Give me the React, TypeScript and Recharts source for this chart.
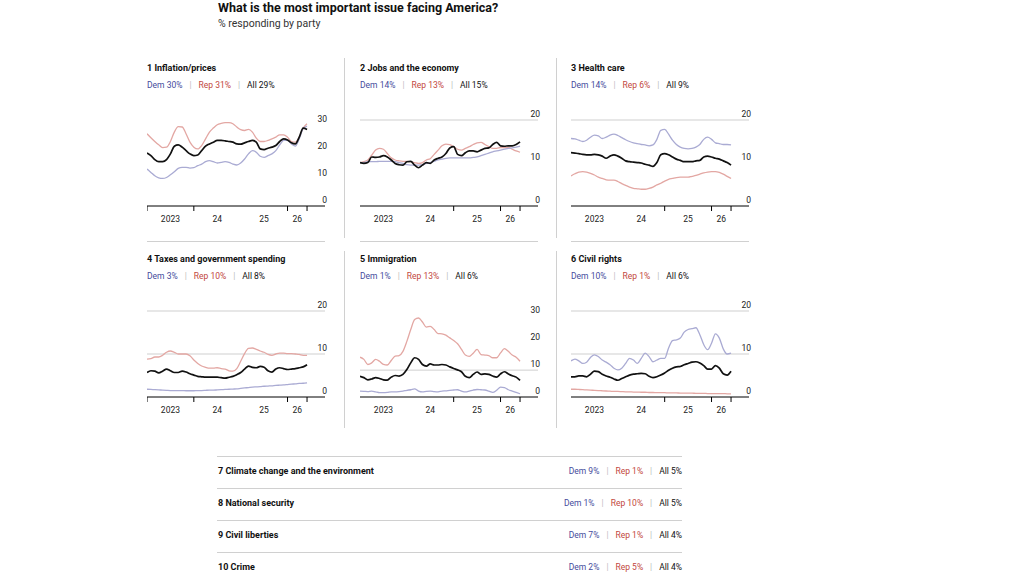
import React from 'react';
import { LineChart, Line, XAxis, YAxis, ReferenceLine } from 'recharts';

const FONT = 'Roboto, "Liberation Sans", sans-serif';
const DEM_LINE = '#aaabd3';
const REP_LINE = '#e3a7a3';
const DEM_TEXT = '#454b9c';
const REP_TEXT = '#c2463d';

// month index, 0 = Jan 2023
const months = [0, 1, 2, 3, 4, 5, 6, 7, 8, 9, 10, 11, 12, 13, 14, 15, 16, 17, 18, 19, 20, 21, 22, 23, 24, 25, 26, 27, 28, 29, 30, 31, 32, 33, 34, 35, 36, 37, 38, 39, 40, 41];

const inflationDem = [13.75, 12.5, 11.25, 10.5, 10.25, 10.6, 11.6, 12.75, 14, 14.4, 14.4, 14.1, 14.25, 15, 15.6, 16.5, 16.9, 16.5, 16, 16.25, 16.5, 16.25, 15.6, 15.25, 16, 17.5, 19.4, 20.6, 20, 18.5, 18.1, 18.75, 19.4, 20.6, 22.75, 24.4, 24.4, 23.1, 22.25, 25, 28.75, 29.75];
const inflationRep = [26.9, 25.4, 24, 22.75, 21.75, 21.9, 24, 27.5, 29.5, 29.4, 26.9, 23.75, 21.9, 21.25, 22.5, 25, 27.5, 29, 30.25, 30.75, 31, 31, 30.6, 29.4, 28.4, 28.1, 28.5, 27.5, 25.25, 24, 24, 24.4, 25, 25.6, 26.5, 26.5, 25.6, 24, 23.75, 25.6, 29, 30.6];
const inflationAll = [19.75, 18.75, 17.25, 16.5, 16.5, 17.25, 19.4, 22.25, 22.75, 21.9, 20.6, 19.4, 18.75, 19, 20.6, 22.25, 23.1, 23.75, 24.4, 24.4, 24.25, 24, 23.75, 23.1, 23, 23.5, 24, 24.4, 23.75, 21.25, 21, 21.5, 21.9, 22.5, 24, 25, 24.6, 23.5, 23.1, 25.6, 29, 28.5];

const jobsDem = [10.1, 10.1, 10.3, 10.3, 10.3, 10.4, 10.4, 10.4, 10.4, 10.3, 10.1, 9.9, 9.6, 9.5, 9.5, 9.5, 9.6, 9.9, 10.1, 10.4, 10.7, 10.9, 11.1, 11.2, 11.2, 11.2, 11.2, 11.2, 11.2, 11.3, 11.4, 11.7, 12, 12.3, 12.6, 12.8, 13, 13.2, 13.4, 13.5, 13.7, 13.9];
const jobsRep = [10.1, 10.3, 10.7, 11.8, 13, 13.4, 13.2, 12.2, 11.2, 10.7, 10.5, 10.4, 10.4, 10.3, 10.1, 9.9, 10.1, 10.7, 11, 12, 13, 14, 14.4, 14.3, 13.8, 13.2, 13, 13.4, 13.8, 14.3, 14.7, 14.8, 14.3, 13.8, 13.4, 13.4, 13.6, 13.6, 13.6, 13.2, 12.8, 12.5];
const jobsAll = [10.1, 9.9, 10.1, 11.4, 11.3, 11.4, 11.7, 11.4, 10.7, 9.9, 9.6, 9.5, 10.3, 10.4, 9.5, 8.9, 9.5, 10.1, 9.9, 10.7, 11.1, 11.4, 12.2, 13.5, 13.8, 12, 11.7, 12.4, 12.8, 12.8, 12.6, 13, 13.4, 13.5, 14.3, 14.8, 14, 13.9, 14, 14, 14.3, 14.9];

const healthDem = [15.7, 15.6, 15.3, 15, 15.3, 16, 16.5, 16.3, 15.7, 16, 16.5, 16.7, 16.4, 15.9, 15.4, 15, 14.7, 14.5, 14.3, 14.2, 14, 14.2, 15.5, 17.6, 17.8, 16.7, 15.3, 14.3, 13.7, 13.4, 13.3, 13.4, 13.7, 14.3, 15.5, 16, 15.5, 14.7, 14.5, 14.3, 14.3, 14.2];
const healthRep = [7, 7.5, 7.9, 8, 7.9, 7.6, 7.2, 6.7, 6.4, 6.1, 6, 6, 5.7, 5.2, 4.8, 4.4, 4.1, 4, 3.9, 3.9, 4.1, 4.4, 4.9, 5.3, 5.8, 6.2, 6.4, 6.6, 6.7, 6.7, 6.7, 6.9, 7.1, 7.4, 7.7, 7.9, 8, 8, 7.8, 7.4, 6.9, 6.4];
const healthAll = [12.4, 12.3, 12.2, 12, 11.9, 11.9, 12, 11.9, 11.6, 11.1, 11.6, 11.9, 11.6, 11.1, 10.5, 10.3, 10.2, 10.1, 10, 9.7, 9.5, 9.2, 10.1, 11.9, 12.2, 11.9, 11.4, 10.9, 10.6, 10.3, 10.3, 10.3, 10.5, 10.6, 11.4, 11.6, 11.4, 11.1, 10.9, 10.5, 10.1, 9.5];

const taxesDem = [1.8, 1.75, 1.7, 1.65, 1.6, 1.55, 1.5, 1.5, 1.5, 1.5, 1.45, 1.45, 1.45, 1.5, 1.5, 1.55, 1.6, 1.6, 1.65, 1.7, 1.75, 1.8, 1.85, 1.9, 2, 2.1, 2.2, 2.3, 2.35, 2.4, 2.5, 2.55, 2.6, 2.7, 2.75, 2.8, 2.9, 3, 3.05, 3.15, 3.2, 3.3];
const taxesRep = [8.8, 8.9, 9.3, 9.3, 9.7, 10.4, 10.7, 10.4, 10, 10, 10, 9.6, 8.6, 7.8, 7.2, 6.9, 6.7, 6.7, 6.8, 6.6, 6.5, 6.1, 6, 6.6, 8.3, 10.1, 11.3, 11.4, 11.1, 10.7, 10.4, 9.9, 9.7, 10, 10.2, 10.2, 10.1, 10.1, 10, 9.9, 9.7, 9.7];
const taxesAll = [5.7, 6.1, 6, 5.6, 6, 6.5, 6.1, 5.7, 5.7, 6, 5.8, 5.4, 5.1, 4.8, 4.7, 4.6, 4.6, 4.6, 4.6, 4.5, 4.4, 4.6, 4.8, 5.2, 5.7, 6.5, 7.2, 6.9, 6.8, 7.1, 6.9, 6.1, 5.8, 6.5, 6.8, 6.6, 6.4, 6.5, 6.6, 6.8, 7, 7.5];

const immigrationDem = [2.2, 2.1, 2, 2.2, 1.9, 1.6, 1.6, 1.7, 1.9, 1.9, 2, 2.2, 2.5, 2.7, 3, 2.2, 1.9, 2.1, 2.2, 2, 1.9, 2.2, 2.3, 2.5, 2.6, 2.7, 2.2, 1.9, 2.2, 2.6, 2.8, 2.7, 2.6, 2.2, 1.7, 2.5, 3.7, 3.5, 2.7, 2.2, 1.7, 1.2];
const immigrationRep = [14.8, 14, 12.1, 12.7, 14, 13.3, 12.1, 11.9, 13.6, 15.2, 15.4, 17, 20.7, 25.1, 28.8, 29.4, 27.9, 26, 26.3, 25.1, 23.6, 23.5, 23, 22, 21, 19.8, 17.7, 15.6, 15.1, 16.3, 17.7, 15.8, 15.6, 15.4, 14.6, 14.6, 16.4, 18, 17, 15.6, 14.8, 13.3];
const immigrationAll = [7.7, 7.2, 6.4, 6.7, 7.2, 6.9, 6.4, 6.3, 7.4, 8, 7.8, 8.4, 10.2, 12.7, 14.6, 14, 12.1, 11.5, 12.3, 11.9, 11.9, 12.1, 11.9, 11.2, 10.6, 10.1, 9.4, 7.7, 7.2, 8.4, 9.3, 8.4, 8.6, 8.4, 7.8, 7.4, 8.6, 9.4, 8.6, 7.9, 7.4, 6.2];

const civilDem = [8.4, 8.8, 8.4, 7.8, 8.1, 9.2, 9.8, 9.4, 8.6, 8.1, 7.5, 6.7, 6.3, 6.7, 7.8, 9, 8.6, 7.8, 9, 10.2, 9.4, 8.2, 8.6, 9, 9, 11.4, 13.1, 13.3, 13.7, 15.1, 15.7, 15.9, 16.1, 14.5, 12.2, 11, 12.5, 14.7, 13.7, 11.2, 10, 10.2];
const civilRep = [1.8, 1.8, 1.75, 1.7, 1.65, 1.6, 1.55, 1.5, 1.45, 1.4, 1.35, 1.3, 1.3, 1.25, 1.2, 1.2, 1.15, 1.15, 1.1, 1.1, 1.05, 1.05, 1, 1, 1, 0.95, 0.95, 0.95, 0.9, 0.9, 0.9, 0.9, 0.85, 0.85, 0.85, 0.8, 0.8, 0.8, 0.8, 0.8, 0.75, 0.75];
const civilAll = [4.7, 4.7, 4.9, 4.9, 4.7, 5.3, 6, 5.9, 5.3, 4.9, 4.6, 4.2, 3.9, 4.3, 4.7, 5.1, 5.3, 5.4, 5.5, 5.4, 4.8, 4.5, 4.7, 5.1, 5.6, 6.2, 6.7, 7, 7.1, 7.5, 7.8, 8.1, 8.2, 7.9, 7.3, 6.5, 6.5, 7.3, 6.7, 5.4, 5.1, 6];

const panelTitles = ['1 Inflation/prices', '2 Jobs and the economy', '3 Health care', '4 Taxes and government spending', '5 Immigration', '6 Civil rights'];
const panelDemShare = [30, 14, 14, 3, 1, 10];
const panelRepShare = [31, 13, 6, 10, 13, 1];
const panelAllShare = [29, 15, 9, 8, 6, 6];
const panelSeries = [
  [inflationDem, inflationRep, inflationAll],
  [jobsDem, jobsRep, jobsAll],
  [healthDem, healthRep, healthAll],
  [taxesDem, taxesRep, taxesAll],
  [immigrationDem, immigrationRep, immigrationAll],
  [civilDem, civilRep, civilAll],
];
const panelYTicks = [[0, 10, 20, 30], [0, 10, 20], [0, 10, 20], [0, 10, 20], [0, 10, 20, 30], [0, 10, 20]];
const panelGrid = [[], [20], [20], [20, 10], [10], [20, 10]];

const yearLabels: Record<number, string> = { 6: '2023', 18: '24', 30: '25', 38.5: '26' };

const tableIssues = ['7 Climate change and the environment', '8 National security', '9 Civil liberties', '10 Crime'];
const tableDem = [9, 1, 7, 2];
const tableRep = [1, 10, 1, 5];
const tableAll = [5, 5, 4, 4];

const PLOT_W = 178;
const PLOT_H = 86;
const MT = 10;
const MR = 12;
const AXIS_H = 22;
const colX = [147, 360, 571];
const rowZero = [205.5, 397.3];
const rowTitleY = [63, 254];
const colTicks = [[0, 12, 36, 41], [24, 36, 41], [24, 36, 41]];

const Sep = () => <span style={{ color: '#bbb', margin: '0 7px' }}>|</span>;

const Shares = ({ dem, rep, all }: { dem: number; rep: number; all: number }) => (
  <>
    <span style={{ color: DEM_TEXT }}>Dem {dem}%</span>
    <Sep />
    <span style={{ color: REP_TEXT }}>Rep {rep}%</span>
    <Sep />
    <span style={{ color: '#111' }}>All {all}%</span>
  </>
);

const XTick = (props: any) => {
  const { x, y, payload, lines } = props;
  const v = payload.value;
  const label = yearLabels[v];
  return (
    <g>
      {lines.includes(v) && <line x1={x} x2={x} y1={y} y2={y + 5} stroke="#000" strokeWidth={1} />}
      {label && (
        <text x={x} y={y + 16} textAnchor="middle" fontSize={8.5} fontFamily={FONT} fill="#222">
          {label}
        </text>
      )}
    </g>
  );
};

const yLabel = (value: number) => (props: any) => {
  const vb = props.viewBox || {};
  return (
    <text x={vb.x + vb.width + 2} y={vb.y - 3} textAnchor="end" fontSize={8.5} fontFamily={FONT} fill="#222">
      {value}
    </text>
  );
};

const Panel = ({ idx }: { idx: number }) => {
  const col = idx % 3;
  const row = Math.floor(idx / 3);
  const [dem, rep, all] = panelSeries[idx];
  const data = months.map((m, i) => ({ m, dem: dem[i], rep: rep[i], all: all[i] }));
  const yTicks = panelYTicks[idx];
  const yMax = yTicks[yTicks.length - 1] === 30 ? 32 : 20;
  const grid = panelGrid[idx];
  const left = colX[col];
  const zero = rowZero[row];
  return (
    <>
      <div style={{ position: 'absolute', left, top: rowTitleY[row], fontSize: 9, lineHeight: '10px', fontWeight: 700, color: '#111', whiteSpace: 'nowrap' }}>
        {panelTitles[idx]}
      </div>
      <div style={{ position: 'absolute', left, top: rowTitleY[row] + 17, fontSize: 8.5, lineHeight: '10px', whiteSpace: 'nowrap' }}>
        <Shares dem={panelDemShare[idx]} rep={panelRepShare[idx]} all={panelAllShare[idx]} />
      </div>
      <div style={{ position: 'absolute', left, top: zero - PLOT_H - MT }}>
        <LineChart width={PLOT_W + MR} height={MT + PLOT_H + AXIS_H} data={data} margin={{ top: MT, right: MR, left: 0, bottom: 0 }}>
          <XAxis
            dataKey="m"
            type="number"
            domain={[0, 45.6]}
            allowDataOverflow
            ticks={[0, 6, 12, 18, 24, 30, 36, 38.5, 41]}
            interval={0}
            tickLine={false}
            tickSize={0}
            tickMargin={0}
            height={AXIS_H}
            axisLine={{ stroke: '#000', strokeWidth: 1 }}
            tick={(p: any) => <XTick {...p} lines={colTicks[col]} />}
          />
          <YAxis hide domain={[0, yMax]} />
          {yTicks.map((t) => (
            <ReferenceLine
              key={t}
              y={t}
              stroke={grid.includes(t) ? '#cfcfcf' : 'none'}
              strokeWidth={1}
              label={yLabel(t)}
            />
          ))}
          <Line type="monotone" dataKey="rep" stroke={REP_LINE} strokeWidth={1.3} dot={false} isAnimationActive={false} />
          <Line type="monotone" dataKey="dem" stroke={DEM_LINE} strokeWidth={1.3} dot={false} isAnimationActive={false} />
          <Line type="monotone" dataKey="all" stroke="#111" strokeWidth={1.7} dot={false} isAnimationActive={false} />
        </LineChart>
      </div>
    </>
  );
};

export default function App() {
  const rule = '#d0d0d0';
  return (
    <div style={{ position: 'absolute', left: 0, top: 0, width: 1024, height: 575, background: '#fff', fontFamily: FONT, color: '#111', overflow: 'hidden' }}>
      <div style={{ position: 'absolute', left: 218, top: 1, fontSize: 12.5, lineHeight: '14px', fontWeight: 700 }}>
        What is the most important issue facing America?
      </div>
      <div style={{ position: 'absolute', left: 218, top: 18, fontSize: 10.5, lineHeight: '12px', color: '#333' }}>
        % responding by party
      </div>

      {[344, 556].map((x) => (
        <React.Fragment key={x}>
          <div style={{ position: 'absolute', left: x, top: 58, width: 1, height: 180, background: rule }} />
          <div style={{ position: 'absolute', left: x, top: 251, width: 1, height: 177, background: rule }} />
        </React.Fragment>
      ))}
      {colX.map((x) => (
        <div key={x} style={{ position: 'absolute', left: x, top: 241, width: PLOT_W, height: 1, background: rule }} />
      ))}

      {[0, 1, 2, 3, 4, 5].map((i) => (
        <Panel key={i} idx={i} />
      ))}

      {tableIssues.map((issue, i) => (
        <React.Fragment key={issue}>
          <div style={{ position: 'absolute', left: 217, top: 456 + i * 32, width: 465, height: 1, background: rule }} />
          <div style={{ position: 'absolute', left: 218, top: 466 + i * 32, fontSize: 9, lineHeight: '11px', fontWeight: 700, whiteSpace: 'nowrap' }}>
            {issue}
          </div>
          <div style={{ position: 'absolute', left: 217, top: 466 + i * 32, width: 465, textAlign: 'right', fontSize: 8.5, lineHeight: '11px', whiteSpace: 'nowrap' }}>
            <Shares dem={tableDem[i]} rep={tableRep[i]} all={tableAll[i]} />
          </div>
        </React.Fragment>
      ))}
    </div>
  );
}
